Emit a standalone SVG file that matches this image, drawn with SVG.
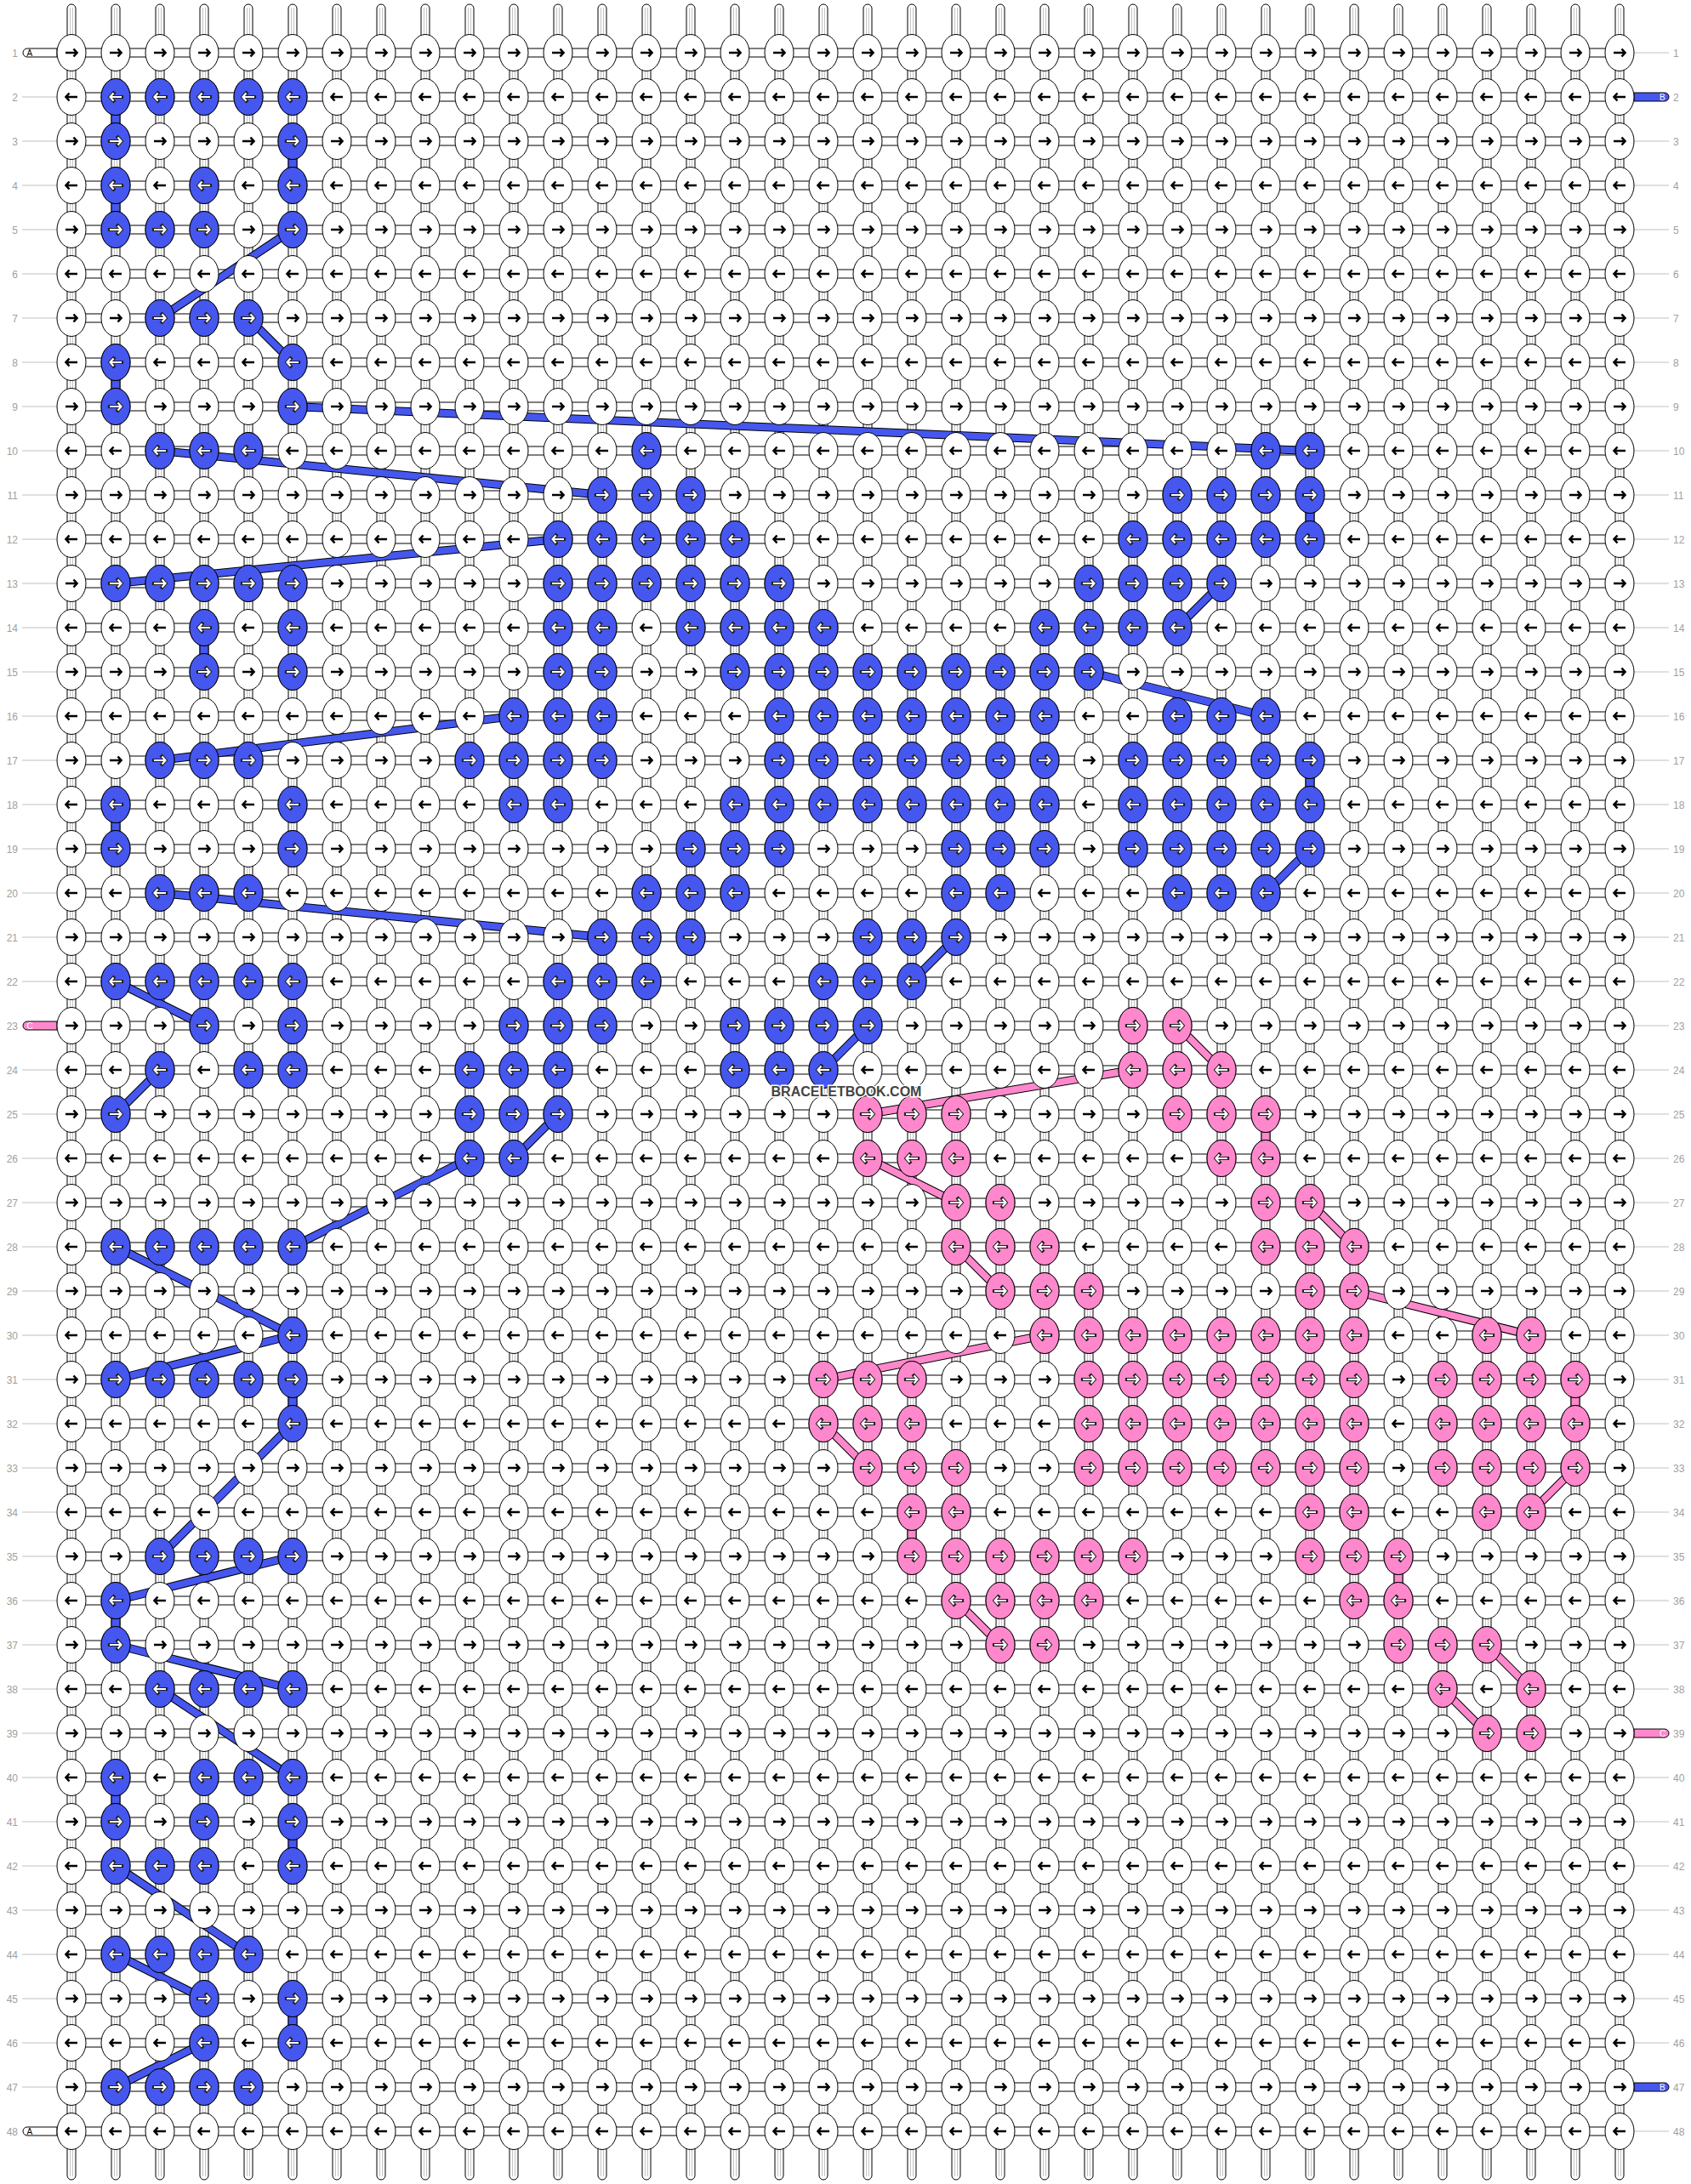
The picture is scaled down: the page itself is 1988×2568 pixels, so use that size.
<svg xmlns="http://www.w3.org/2000/svg" xmlns:xlink="http://www.w3.org/1999/xlink" width="1988" height="2568" viewBox="0 0 1988 2568">
<style>
.st{fill:#fff;stroke:#000;stroke-width:1}
.il{fill:none;stroke:#c4c4c4;stroke-width:1}
.kw{fill:#fff;stroke:#000;stroke-width:1}
.kb{fill:#4557ee;stroke:#000;stroke-width:1}
.kp{fill:#ff88cc;stroke:#000;stroke-width:1}
.aw{fill:none;stroke:#000;stroke-width:2.6}
.ao{fill:none;stroke:#222;stroke-width:4.2;stroke-linecap:square}
.ai{fill:none;stroke:#fff;stroke-width:2.2;stroke-linecap:butt}
.t{font-family:"Liberation Sans",Arial,sans-serif;font-size:12px;fill:#a0a0a0}
.gl{fill:none;stroke:#c0c0c0;stroke-width:1}
.ok{fill:none;stroke:#000;stroke-width:10}
.cb{fill:none;stroke:#4557ee;stroke-width:8}
.cp{fill:none;stroke:#ff88cc;stroke-width:8}
.vb{fill:#4557ee;stroke:#000;stroke-width:1}
.vp{fill:#ff88cc;stroke:#000;stroke-width:1}
.pw{fill:#fff;stroke:#000;stroke-width:1}
.pb{fill:#4557ee;stroke:#000;stroke-width:1}
.pp{fill:#ff88cc;stroke:#000;stroke-width:1}
.pt{font-family:"Liberation Sans",Arial,sans-serif;font-size:10px}
</style>
<defs>
<path id="ar" d="M-7,0H6M2.5,-4.5L6.5,0L2.5,4.5"/>
<path id="al" d="M7,0H-6M-2.5,-4.5L-6.5,0L-2.5,4.5"/>
<ellipse id="e" rx="17" ry="21.5"/>
<g id="R"><use href="#e" class="kw"/><use href="#ar" class="aw"/></g>
<g id="L"><use href="#e" class="kw"/><use href="#al" class="aw"/></g>
<g id="BR"><use href="#e" class="kb"/><use href="#ar" class="ao"/><use href="#ar" class="ai"/></g>
<g id="BL"><use href="#e" class="kb"/><use href="#al" class="ao"/><use href="#al" class="ai"/></g>
<g id="PR"><use href="#e" class="kp"/><use href="#ar" class="ao"/><use href="#ar" class="ai"/></g>
<g id="PL"><use href="#e" class="kp"/><use href="#al" class="ao"/><use href="#al" class="ai"/></g>
<g id="R4"><use href="#R"/><use href="#R" x="52"/><use href="#R" x="104"/><use href="#R" x="156"/></g>
<g id="L4"><use href="#L"/><use href="#L" x="52"/><use href="#L" x="104"/><use href="#L" x="156"/></g>
<g id="RR"><use href="#R4" x="84"/><use href="#R4" x="292"/><use href="#R4" x="500"/><use href="#R4" x="708"/><use href="#R4" x="916"/><use href="#R4" x="1124"/><use href="#R4" x="1332"/><use href="#R4" x="1540"/><use href="#R4" x="1748"/></g>
<g id="LL"><use href="#L4" x="84"/><use href="#L4" x="292"/><use href="#L4" x="500"/><use href="#L4" x="708"/><use href="#L4" x="916"/><use href="#L4" x="1124"/><use href="#L4" x="1332"/><use href="#L4" x="1540"/><use href="#L4" x="1748"/></g>
<g id="V"><rect class="st" x="-5" y="5" width="10" height="2558" rx="5"/><path class="il" d="M-1.5,9V2559M1.5,9V2559"/></g>
<g id="V4"><use href="#V"/><use href="#V" x="52"/><use href="#V" x="104"/><use href="#V" x="156"/></g>
<rect id="H" class="st" x="84" y="-5" width="1820" height="10"/>
<path id="pl" d="M67,-5H32A5,5 0 0 0 32,5H67Z"/>
<path id="pr" d="M1921,-5H1957A5,5 0 0 1 1957,5H1921Z"/>
<g id="bluepaths">
<path d="M344,270L188,374"/><path d="M292,374L344,426"/><path d="M344,478L1540,530"/><path d="M188,530L708,582"/><path d="M656,634L136,686"/><path d="M1436,686L1384,738"/><path d="M1280,790L1488,842"/><path d="M604,842L188,894"/><path d="M1540,998L1488,1050"/><path d="M188,1050L708,1102"/><path d="M1124,1102L1072,1154"/><path d="M136,1154L240,1206"/><path d="M1020,1206L968,1258"/><path d="M188,1258L136,1310"/><path d="M656,1310L604,1362"/><path d="M552,1362L344,1466"/><path d="M136,1466L344,1570"/><path d="M344,1570L136,1622"/><path d="M344,1674L188,1830"/><path d="M344,1830L136,1882"/><path d="M136,1934L344,1986"/><path d="M188,1986L344,2090"/><path d="M136,2194L292,2298"/><path d="M136,2298L240,2350"/><path d="M240,2402L136,2454"/>
</g>
<g id="pinkpaths">
<path d="M1384,1206L1436,1258"/><path d="M1332,1258L1020,1310"/><path d="M1020,1362L1124,1414"/><path d="M1540,1414L1592,1466"/><path d="M1124,1466L1176,1518"/><path d="M1592,1518L1800,1570"/><path d="M1228,1570L968,1622"/><path d="M968,1674L1020,1726"/><path d="M1852,1726L1800,1778"/><path d="M1124,1882L1176,1934"/><path d="M1748,1934L1800,1986"/><path d="M1696,1986L1748,2038"/>
</g>
</defs>
<rect width="1988" height="2568" fill="#fff"/>
<g id="row-labels">
<path class="gl" d="M26,114H67M26,166H67M26,218H67M26,270H67M26,322H67M26,374H67M26,426H67M26,478H67M26,530H67M26,582H67M26,634H67M26,686H67M26,738H67M26,790H67M26,842H67M26,894H67M26,946H67M26,998H67M26,1050H67M26,1102H67M26,1154H67M26,1258H67M26,1310H67M26,1362H67M26,1414H67M26,1466H67M26,1518H67M26,1570H67M26,1622H67M26,1674H67M26,1726H67M26,1778H67M26,1830H67M26,1882H67M26,1934H67M26,1986H67M26,2038H67M26,2090H67M26,2142H67M26,2194H67M26,2246H67M26,2298H67M26,2350H67M26,2402H67M26,2454H67"/>
<path class="gl" d="M1921,62H1962M1921,166H1962M1921,218H1962M1921,270H1962M1921,322H1962M1921,374H1962M1921,426H1962M1921,478H1962M1921,530H1962M1921,582H1962M1921,634H1962M1921,686H1962M1921,738H1962M1921,790H1962M1921,842H1962M1921,894H1962M1921,946H1962M1921,998H1962M1921,1050H1962M1921,1102H1962M1921,1154H1962M1921,1206H1962M1921,1258H1962M1921,1310H1962M1921,1362H1962M1921,1414H1962M1921,1466H1962M1921,1518H1962M1921,1570H1962M1921,1622H1962M1921,1674H1962M1921,1726H1962M1921,1778H1962M1921,1830H1962M1921,1882H1962M1921,1934H1962M1921,1986H1962M1921,2090H1962M1921,2142H1962M1921,2194H1962M1921,2246H1962M1921,2298H1962M1921,2350H1962M1921,2402H1962M1921,2506H1962"/>
<g class="t" text-anchor="end">
<text x="21" y="66.5">1</text><text x="21" y="118.5">2</text><text x="21" y="170.5">3</text><text x="21" y="222.5">4</text><text x="21" y="274.5">5</text><text x="21" y="326.5">6</text><text x="21" y="378.5">7</text><text x="21" y="430.5">8</text><text x="21" y="482.5">9</text><text x="21" y="534.5">10</text><text x="21" y="586.5">11</text><text x="21" y="638.5">12</text><text x="21" y="690.5">13</text><text x="21" y="742.5">14</text><text x="21" y="794.5">15</text><text x="21" y="846.5">16</text><text x="21" y="898.5">17</text><text x="21" y="950.5">18</text><text x="21" y="1002.5">19</text><text x="21" y="1054.5">20</text><text x="21" y="1106.5">21</text><text x="21" y="1158.5">22</text><text x="21" y="1210.5">23</text><text x="21" y="1262.5">24</text><text x="21" y="1314.5">25</text><text x="21" y="1366.5">26</text><text x="21" y="1418.5">27</text><text x="21" y="1470.5">28</text><text x="21" y="1522.5">29</text><text x="21" y="1574.5">30</text><text x="21" y="1626.5">31</text><text x="21" y="1678.5">32</text><text x="21" y="1730.5">33</text><text x="21" y="1782.5">34</text><text x="21" y="1834.5">35</text><text x="21" y="1886.5">36</text><text x="21" y="1938.5">37</text><text x="21" y="1990.5">38</text><text x="21" y="2042.5">39</text><text x="21" y="2094.5">40</text><text x="21" y="2146.5">41</text><text x="21" y="2198.5">42</text><text x="21" y="2250.5">43</text><text x="21" y="2302.5">44</text><text x="21" y="2354.5">45</text><text x="21" y="2406.5">46</text><text x="21" y="2458.5">47</text><text x="21" y="2510.5">48</text>
</g>
<g class="t">
<text x="1967" y="66.5">1</text><text x="1967" y="118.5">2</text><text x="1967" y="170.5">3</text><text x="1967" y="222.5">4</text><text x="1967" y="274.5">5</text><text x="1967" y="326.5">6</text><text x="1967" y="378.5">7</text><text x="1967" y="430.5">8</text><text x="1967" y="482.5">9</text><text x="1967" y="534.5">10</text><text x="1967" y="586.5">11</text><text x="1967" y="638.5">12</text><text x="1967" y="690.5">13</text><text x="1967" y="742.5">14</text><text x="1967" y="794.5">15</text><text x="1967" y="846.5">16</text><text x="1967" y="898.5">17</text><text x="1967" y="950.5">18</text><text x="1967" y="1002.5">19</text><text x="1967" y="1054.5">20</text><text x="1967" y="1106.5">21</text><text x="1967" y="1158.5">22</text><text x="1967" y="1210.5">23</text><text x="1967" y="1262.5">24</text><text x="1967" y="1314.5">25</text><text x="1967" y="1366.5">26</text><text x="1967" y="1418.5">27</text><text x="1967" y="1470.5">28</text><text x="1967" y="1522.5">29</text><text x="1967" y="1574.5">30</text><text x="1967" y="1626.5">31</text><text x="1967" y="1678.5">32</text><text x="1967" y="1730.5">33</text><text x="1967" y="1782.5">34</text><text x="1967" y="1834.5">35</text><text x="1967" y="1886.5">36</text><text x="1967" y="1938.5">37</text><text x="1967" y="1990.5">38</text><text x="1967" y="2042.5">39</text><text x="1967" y="2094.5">40</text><text x="1967" y="2146.5">41</text><text x="1967" y="2198.5">42</text><text x="1967" y="2250.5">43</text><text x="1967" y="2302.5">44</text><text x="1967" y="2354.5">45</text><text x="1967" y="2406.5">46</text><text x="1967" y="2458.5">47</text><text x="1967" y="2510.5">48</text>
</g>
</g>
<g id="strands">
<use href="#V4" x="84"/><use href="#V4" x="292"/><use href="#V4" x="500"/><use href="#V4" x="708"/><use href="#V4" x="916"/><use href="#V4" x="1124"/><use href="#V4" x="1332"/><use href="#V4" x="1540"/><use href="#V4" x="1748"/>
<use href="#H" y="62"/><use href="#H" y="114"/><use href="#H" y="166"/><use href="#H" y="218"/><use href="#H" y="270"/><use href="#H" y="322"/><use href="#H" y="374"/><use href="#H" y="426"/><use href="#H" y="478"/><use href="#H" y="530"/><use href="#H" y="582"/><use href="#H" y="634"/><use href="#H" y="686"/><use href="#H" y="738"/><use href="#H" y="790"/><use href="#H" y="842"/><use href="#H" y="894"/><use href="#H" y="946"/><use href="#H" y="998"/><use href="#H" y="1050"/><use href="#H" y="1102"/><use href="#H" y="1154"/><use href="#H" y="1206"/><use href="#H" y="1258"/><use href="#H" y="1310"/><use href="#H" y="1362"/><use href="#H" y="1414"/><use href="#H" y="1466"/><use href="#H" y="1518"/><use href="#H" y="1570"/><use href="#H" y="1622"/><use href="#H" y="1674"/><use href="#H" y="1726"/><use href="#H" y="1778"/><use href="#H" y="1830"/><use href="#H" y="1882"/><use href="#H" y="1934"/><use href="#H" y="1986"/><use href="#H" y="2038"/><use href="#H" y="2090"/><use href="#H" y="2142"/><use href="#H" y="2194"/><use href="#H" y="2246"/><use href="#H" y="2298"/><use href="#H" y="2350"/><use href="#H" y="2402"/><use href="#H" y="2454"/><use href="#H" y="2506"/>
</g>
<g id="thread-ends">
<g id="endA1"><use href="#pl" y="62" class="pw"/><text class="pt" x="31.5" y="65.7" fill="#000">A</text></g>
<g id="endA48"><use href="#pl" y="2506" class="pw"/><text class="pt" x="31.5" y="2509.7" fill="#000">A</text></g>
<g id="endC23"><use href="#pl" y="1206" class="pp"/><text class="pt" x="31.5" y="1209.7" fill="#fff">C</text></g>
<g id="endB2"><use href="#pr" y="114" class="pb"/><text class="pt" x="1951" y="117.7" fill="#fff">B</text></g>
<g id="endB47"><use href="#pr" y="2454" class="pb"/><text class="pt" x="1951" y="2457.7" fill="#fff">B</text></g>
<g id="endC39"><use href="#pr" y="2038" class="pp"/><text class="pt" x="1951" y="2041.7" fill="#fff">C</text></g>
</g>
<g id="connectors">
<use href="#bluepaths" class="ok"/><use href="#bluepaths" class="cb"/>
<use href="#pinkpaths" class="ok"/><use href="#pinkpaths" class="cp"/>
<g class="vb"><rect x="131" y="114" width="10" height="52"/><rect x="339" y="166" width="10" height="52"/><rect x="131" y="218" width="10" height="52"/><rect x="131" y="426" width="10" height="52"/><rect x="1535" y="582" width="10" height="52"/><rect x="235" y="738" width="10" height="52"/><rect x="1535" y="894" width="10" height="52"/><rect x="131" y="946" width="10" height="52"/><rect x="339" y="1622" width="10" height="52"/><rect x="131" y="1882" width="10" height="52"/><rect x="131" y="2090" width="10" height="52"/><rect x="339" y="2142" width="10" height="52"/><rect x="339" y="2350" width="10" height="52"/></g>
<g class="vp"><rect x="1483" y="1310" width="10" height="52"/><rect x="1847" y="1622" width="10" height="52"/><rect x="1067" y="1778" width="10" height="52"/><rect x="1639" y="1830" width="10" height="52"/></g>
</g>
<g id="knots">
<use id="row1" href="#RR" y="62"/><use id="row2" href="#LL" y="114"/><use id="row3" href="#RR" y="166"/><use id="row4" href="#LL" y="218"/><use id="row5" href="#RR" y="270"/><use id="row6" href="#LL" y="322"/><use id="row7" href="#RR" y="374"/><use id="row8" href="#LL" y="426"/><use id="row9" href="#RR" y="478"/><use id="row10" href="#LL" y="530"/><use id="row11" href="#RR" y="582"/><use id="row12" href="#LL" y="634"/><use id="row13" href="#RR" y="686"/><use id="row14" href="#LL" y="738"/><use id="row15" href="#RR" y="790"/><use id="row16" href="#LL" y="842"/><use id="row17" href="#RR" y="894"/><use id="row18" href="#LL" y="946"/><use id="row19" href="#RR" y="998"/><use id="row20" href="#LL" y="1050"/><use id="row21" href="#RR" y="1102"/><use id="row22" href="#LL" y="1154"/><use id="row23" href="#RR" y="1206"/><use id="row24" href="#LL" y="1258"/><use id="row25" href="#RR" y="1310"/><use id="row26" href="#LL" y="1362"/><use id="row27" href="#RR" y="1414"/><use id="row28" href="#LL" y="1466"/><use id="row29" href="#RR" y="1518"/><use id="row30" href="#LL" y="1570"/><use id="row31" href="#RR" y="1622"/><use id="row32" href="#LL" y="1674"/><use id="row33" href="#RR" y="1726"/><use id="row34" href="#LL" y="1778"/><use id="row35" href="#RR" y="1830"/><use id="row36" href="#LL" y="1882"/><use id="row37" href="#RR" y="1934"/><use id="row38" href="#LL" y="1986"/><use id="row39" href="#RR" y="2038"/><use id="row40" href="#LL" y="2090"/><use id="row41" href="#RR" y="2142"/><use id="row42" href="#LL" y="2194"/><use id="row43" href="#RR" y="2246"/><use id="row44" href="#LL" y="2298"/><use id="row45" href="#RR" y="2350"/><use id="row46" href="#LL" y="2402"/><use id="row47" href="#RR" y="2454"/><use id="row48" href="#LL" y="2506"/>
</g>
<g id="blue-knots">
<g id="b2" transform="translate(32,114)"><use href="#BL" x="104"/><use href="#BL" x="156"/><use href="#BL" x="208"/><use href="#BL" x="260"/><use href="#BL" x="312"/></g>
<g id="b3" transform="translate(32,166)"><use href="#BR" x="104"/><use href="#BR" x="312"/></g>
<g id="b4" transform="translate(32,218)"><use href="#BL" x="104"/><use href="#BL" x="208"/><use href="#BL" x="312"/></g>
<g id="b5" transform="translate(32,270)"><use href="#BR" x="104"/><use href="#BR" x="156"/><use href="#BR" x="208"/><use href="#BR" x="312"/></g>
<g id="b7" transform="translate(32,374)"><use href="#BR" x="156"/><use href="#BR" x="208"/><use href="#BR" x="260"/></g>
<g id="b8" transform="translate(32,426)"><use href="#BL" x="104"/><use href="#BL" x="312"/></g>
<g id="b9" transform="translate(32,478)"><use href="#BR" x="104"/><use href="#BR" x="312"/></g>
<g id="b10" transform="translate(32,530)"><use href="#BL" x="156"/><use href="#BL" x="208"/><use href="#BL" x="260"/><use href="#BL" x="728"/><use href="#BL" x="1456"/><use href="#BL" x="1508"/></g>
<g id="b11" transform="translate(32,582)"><use href="#BR" x="676"/><use href="#BR" x="728"/><use href="#BR" x="780"/><use href="#BR" x="1352"/><use href="#BR" x="1404"/><use href="#BR" x="1456"/><use href="#BR" x="1508"/></g>
<g id="b12" transform="translate(32,634)"><use href="#BL" x="624"/><use href="#BL" x="676"/><use href="#BL" x="728"/><use href="#BL" x="780"/><use href="#BL" x="832"/><use href="#BL" x="1300"/><use href="#BL" x="1352"/><use href="#BL" x="1404"/><use href="#BL" x="1456"/><use href="#BL" x="1508"/></g>
<g id="b13" transform="translate(32,686)"><use href="#BR" x="104"/><use href="#BR" x="156"/><use href="#BR" x="208"/><use href="#BR" x="260"/><use href="#BR" x="312"/><use href="#BR" x="624"/><use href="#BR" x="676"/><use href="#BR" x="728"/><use href="#BR" x="780"/><use href="#BR" x="832"/><use href="#BR" x="884"/><use href="#BR" x="1248"/><use href="#BR" x="1300"/><use href="#BR" x="1352"/><use href="#BR" x="1404"/></g>
<g id="b14" transform="translate(32,738)"><use href="#BL" x="208"/><use href="#BL" x="312"/><use href="#BL" x="624"/><use href="#BL" x="676"/><use href="#BL" x="780"/><use href="#BL" x="832"/><use href="#BL" x="884"/><use href="#BL" x="936"/><use href="#BL" x="1196"/><use href="#BL" x="1248"/><use href="#BL" x="1300"/><use href="#BL" x="1352"/></g>
<g id="b15" transform="translate(32,790)"><use href="#BR" x="208"/><use href="#BR" x="312"/><use href="#BR" x="624"/><use href="#BR" x="676"/><use href="#BR" x="832"/><use href="#BR" x="884"/><use href="#BR" x="936"/><use href="#BR" x="988"/><use href="#BR" x="1040"/><use href="#BR" x="1092"/><use href="#BR" x="1144"/><use href="#BR" x="1196"/><use href="#BR" x="1248"/></g>
<g id="b16" transform="translate(32,842)"><use href="#BL" x="572"/><use href="#BL" x="624"/><use href="#BL" x="676"/><use href="#BL" x="884"/><use href="#BL" x="936"/><use href="#BL" x="988"/><use href="#BL" x="1040"/><use href="#BL" x="1092"/><use href="#BL" x="1144"/><use href="#BL" x="1196"/><use href="#BL" x="1352"/><use href="#BL" x="1404"/><use href="#BL" x="1456"/></g>
<g id="b17" transform="translate(32,894)"><use href="#BR" x="156"/><use href="#BR" x="208"/><use href="#BR" x="260"/><use href="#BR" x="520"/><use href="#BR" x="572"/><use href="#BR" x="624"/><use href="#BR" x="676"/><use href="#BR" x="884"/><use href="#BR" x="936"/><use href="#BR" x="988"/><use href="#BR" x="1040"/><use href="#BR" x="1092"/><use href="#BR" x="1144"/><use href="#BR" x="1196"/><use href="#BR" x="1300"/><use href="#BR" x="1352"/><use href="#BR" x="1404"/><use href="#BR" x="1456"/><use href="#BR" x="1508"/></g>
<g id="b18" transform="translate(32,946)"><use href="#BL" x="104"/><use href="#BL" x="312"/><use href="#BL" x="572"/><use href="#BL" x="624"/><use href="#BL" x="832"/><use href="#BL" x="884"/><use href="#BL" x="936"/><use href="#BL" x="988"/><use href="#BL" x="1040"/><use href="#BL" x="1092"/><use href="#BL" x="1144"/><use href="#BL" x="1196"/><use href="#BL" x="1300"/><use href="#BL" x="1352"/><use href="#BL" x="1404"/><use href="#BL" x="1456"/><use href="#BL" x="1508"/></g>
<g id="b19" transform="translate(32,998)"><use href="#BR" x="104"/><use href="#BR" x="312"/><use href="#BR" x="780"/><use href="#BR" x="832"/><use href="#BR" x="884"/><use href="#BR" x="1092"/><use href="#BR" x="1144"/><use href="#BR" x="1196"/><use href="#BR" x="1300"/><use href="#BR" x="1352"/><use href="#BR" x="1404"/><use href="#BR" x="1456"/><use href="#BR" x="1508"/></g>
<g id="b20" transform="translate(32,1050)"><use href="#BL" x="156"/><use href="#BL" x="208"/><use href="#BL" x="260"/><use href="#BL" x="728"/><use href="#BL" x="780"/><use href="#BL" x="832"/><use href="#BL" x="1092"/><use href="#BL" x="1144"/><use href="#BL" x="1352"/><use href="#BL" x="1404"/><use href="#BL" x="1456"/></g>
<g id="b21" transform="translate(32,1102)"><use href="#BR" x="676"/><use href="#BR" x="728"/><use href="#BR" x="780"/><use href="#BR" x="988"/><use href="#BR" x="1040"/><use href="#BR" x="1092"/></g>
<g id="b22" transform="translate(32,1154)"><use href="#BL" x="104"/><use href="#BL" x="156"/><use href="#BL" x="208"/><use href="#BL" x="260"/><use href="#BL" x="312"/><use href="#BL" x="624"/><use href="#BL" x="676"/><use href="#BL" x="728"/><use href="#BL" x="936"/><use href="#BL" x="988"/><use href="#BL" x="1040"/></g>
<g id="b23" transform="translate(32,1206)"><use href="#BR" x="208"/><use href="#BR" x="312"/><use href="#BR" x="572"/><use href="#BR" x="624"/><use href="#BR" x="676"/><use href="#BR" x="832"/><use href="#BR" x="884"/><use href="#BR" x="936"/><use href="#BR" x="988"/></g>
<g id="b24" transform="translate(32,1258)"><use href="#BL" x="156"/><use href="#BL" x="260"/><use href="#BL" x="312"/><use href="#BL" x="520"/><use href="#BL" x="572"/><use href="#BL" x="624"/><use href="#BL" x="832"/><use href="#BL" x="884"/><use href="#BL" x="936"/></g>
<g id="b25" transform="translate(32,1310)"><use href="#BR" x="104"/><use href="#BR" x="520"/><use href="#BR" x="572"/><use href="#BR" x="624"/></g>
<g id="b26" transform="translate(32,1362)"><use href="#BL" x="520"/><use href="#BL" x="572"/></g>
<g id="b28" transform="translate(32,1466)"><use href="#BL" x="104"/><use href="#BL" x="156"/><use href="#BL" x="208"/><use href="#BL" x="260"/><use href="#BL" x="312"/></g>
<g id="b30" transform="translate(32,1570)"><use href="#BL" x="312"/></g>
<g id="b31" transform="translate(32,1622)"><use href="#BR" x="104"/><use href="#BR" x="156"/><use href="#BR" x="208"/><use href="#BR" x="260"/><use href="#BR" x="312"/></g>
<g id="b32" transform="translate(32,1674)"><use href="#BL" x="312"/></g>
<g id="b35" transform="translate(32,1830)"><use href="#BR" x="156"/><use href="#BR" x="208"/><use href="#BR" x="260"/><use href="#BR" x="312"/></g>
<g id="b36" transform="translate(32,1882)"><use href="#BL" x="104"/></g>
<g id="b37" transform="translate(32,1934)"><use href="#BR" x="104"/></g>
<g id="b38" transform="translate(32,1986)"><use href="#BL" x="156"/><use href="#BL" x="208"/><use href="#BL" x="260"/><use href="#BL" x="312"/></g>
<g id="b40" transform="translate(32,2090)"><use href="#BL" x="104"/><use href="#BL" x="208"/><use href="#BL" x="260"/><use href="#BL" x="312"/></g>
<g id="b41" transform="translate(32,2142)"><use href="#BR" x="104"/><use href="#BR" x="208"/><use href="#BR" x="312"/></g>
<g id="b42" transform="translate(32,2194)"><use href="#BL" x="104"/><use href="#BL" x="156"/><use href="#BL" x="208"/><use href="#BL" x="312"/></g>
<g id="b44" transform="translate(32,2298)"><use href="#BL" x="104"/><use href="#BL" x="156"/><use href="#BL" x="208"/><use href="#BL" x="260"/></g>
<g id="b45" transform="translate(32,2350)"><use href="#BR" x="208"/><use href="#BR" x="312"/></g>
<g id="b46" transform="translate(32,2402)"><use href="#BL" x="208"/><use href="#BL" x="312"/></g>
<g id="b47" transform="translate(32,2454)"><use href="#BR" x="104"/><use href="#BR" x="156"/><use href="#BR" x="208"/><use href="#BR" x="260"/></g>
</g>
<g id="pink-knots">
<g id="p23" transform="translate(32,1206)"><use href="#PR" x="1300"/><use href="#PR" x="1352"/></g>
<g id="p24" transform="translate(32,1258)"><use href="#PL" x="1300"/><use href="#PL" x="1352"/><use href="#PL" x="1404"/></g>
<g id="p25" transform="translate(32,1310)"><use href="#PR" x="988"/><use href="#PR" x="1040"/><use href="#PR" x="1092"/><use href="#PR" x="1352"/><use href="#PR" x="1404"/><use href="#PR" x="1456"/></g>
<g id="p26" transform="translate(32,1362)"><use href="#PL" x="988"/><use href="#PL" x="1040"/><use href="#PL" x="1092"/><use href="#PL" x="1404"/><use href="#PL" x="1456"/></g>
<g id="p27" transform="translate(32,1414)"><use href="#PR" x="1092"/><use href="#PR" x="1144"/><use href="#PR" x="1456"/><use href="#PR" x="1508"/></g>
<g id="p28" transform="translate(32,1466)"><use href="#PL" x="1092"/><use href="#PL" x="1144"/><use href="#PL" x="1196"/><use href="#PL" x="1456"/><use href="#PL" x="1508"/><use href="#PL" x="1560"/></g>
<g id="p29" transform="translate(32,1518)"><use href="#PR" x="1144"/><use href="#PR" x="1196"/><use href="#PR" x="1248"/><use href="#PR" x="1508"/><use href="#PR" x="1560"/></g>
<g id="p30" transform="translate(32,1570)"><use href="#PL" x="1196"/><use href="#PL" x="1248"/><use href="#PL" x="1300"/><use href="#PL" x="1352"/><use href="#PL" x="1404"/><use href="#PL" x="1456"/><use href="#PL" x="1508"/><use href="#PL" x="1560"/><use href="#PL" x="1716"/><use href="#PL" x="1768"/></g>
<g id="p31" transform="translate(32,1622)"><use href="#PR" x="936"/><use href="#PR" x="988"/><use href="#PR" x="1040"/><use href="#PR" x="1248"/><use href="#PR" x="1300"/><use href="#PR" x="1352"/><use href="#PR" x="1404"/><use href="#PR" x="1456"/><use href="#PR" x="1508"/><use href="#PR" x="1560"/><use href="#PR" x="1664"/><use href="#PR" x="1716"/><use href="#PR" x="1768"/><use href="#PR" x="1820"/></g>
<g id="p32" transform="translate(32,1674)"><use href="#PL" x="936"/><use href="#PL" x="988"/><use href="#PL" x="1040"/><use href="#PL" x="1248"/><use href="#PL" x="1300"/><use href="#PL" x="1352"/><use href="#PL" x="1404"/><use href="#PL" x="1456"/><use href="#PL" x="1508"/><use href="#PL" x="1560"/><use href="#PL" x="1664"/><use href="#PL" x="1716"/><use href="#PL" x="1768"/><use href="#PL" x="1820"/></g>
<g id="p33" transform="translate(32,1726)"><use href="#PR" x="988"/><use href="#PR" x="1040"/><use href="#PR" x="1092"/><use href="#PR" x="1248"/><use href="#PR" x="1300"/><use href="#PR" x="1352"/><use href="#PR" x="1404"/><use href="#PR" x="1456"/><use href="#PR" x="1508"/><use href="#PR" x="1560"/><use href="#PR" x="1664"/><use href="#PR" x="1716"/><use href="#PR" x="1768"/><use href="#PR" x="1820"/></g>
<g id="p34" transform="translate(32,1778)"><use href="#PL" x="1040"/><use href="#PL" x="1092"/><use href="#PL" x="1508"/><use href="#PL" x="1560"/><use href="#PL" x="1716"/><use href="#PL" x="1768"/></g>
<g id="p35" transform="translate(32,1830)"><use href="#PR" x="1040"/><use href="#PR" x="1092"/><use href="#PR" x="1144"/><use href="#PR" x="1196"/><use href="#PR" x="1248"/><use href="#PR" x="1300"/><use href="#PR" x="1508"/><use href="#PR" x="1560"/><use href="#PR" x="1612"/></g>
<g id="p36" transform="translate(32,1882)"><use href="#PL" x="1092"/><use href="#PL" x="1144"/><use href="#PL" x="1196"/><use href="#PL" x="1248"/><use href="#PL" x="1560"/><use href="#PL" x="1612"/></g>
<g id="p37" transform="translate(32,1934)"><use href="#PR" x="1144"/><use href="#PR" x="1196"/><use href="#PR" x="1612"/><use href="#PR" x="1664"/><use href="#PR" x="1716"/></g>
<g id="p38" transform="translate(32,1986)"><use href="#PL" x="1664"/><use href="#PL" x="1768"/></g>
<g id="p39" transform="translate(32,2038)"><use href="#PR" x="1716"/><use href="#PR" x="1768"/></g>
</g>
<text id="watermark" x="995" y="1289" text-anchor="middle" font-family="'Liberation Sans',Arial,sans-serif" font-size="16" font-weight="bold" fill="#444" stroke="#fff" stroke-width="3" paint-order="stroke">BRACELETBOOK.COM</text>
</svg>
